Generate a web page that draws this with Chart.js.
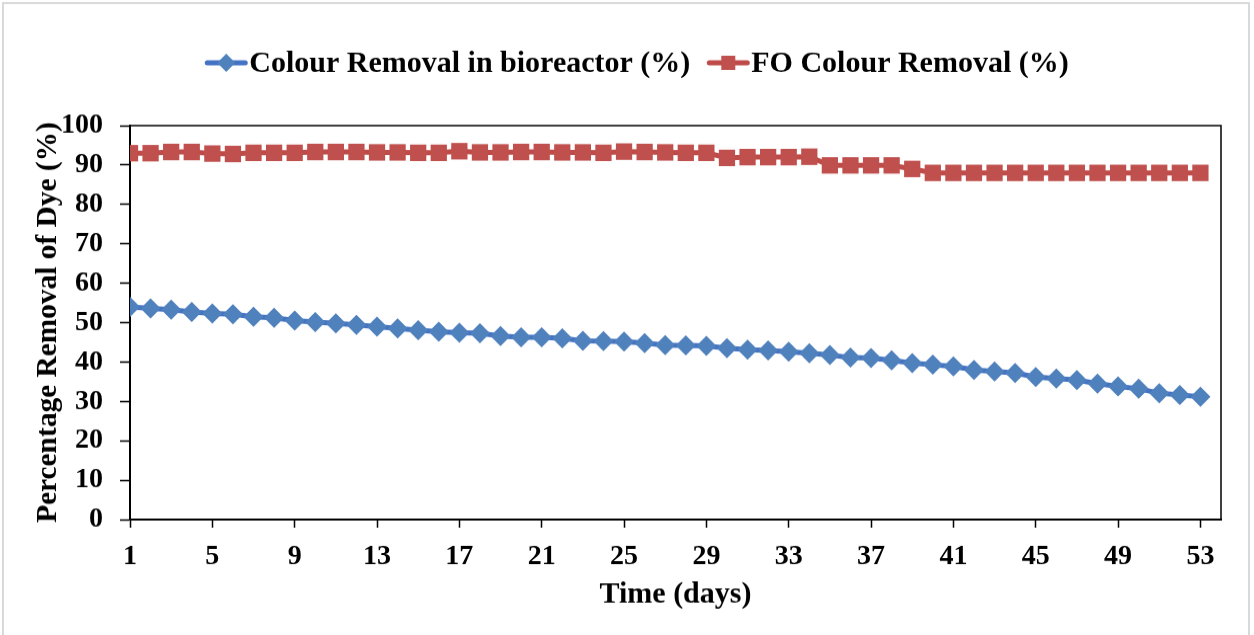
<!DOCTYPE html>
<html lang="en">
<head>
    <meta charset="UTF-8">
    <title>Percentage Removal of Dye</title>
    <style>
        body { margin: 0; background: #fff; }
        #wrap { width: 1254px; height: 635px; position: relative; }
        #myChart { width: 1254px !important; height: 635px !important; }
    </style>
    <script src="https://cdn.jsdelivr.net/npm/chart.js"></script>
</head>
<body>
    <div id="wrap"><canvas id="myChart"></canvas></div>
    <script>
        // days 1..53
        const days = [];
        for (let d = 1; d <= 53; d++) days.push(d);

        // values
        const bioreactor = [
            54.0, 53.6, 53.3, 52.7, 52.3, 52.1, 51.5, 51.2, 50.5, 50.1,
            49.8, 49.4, 49.0, 48.5, 48.1, 47.7, 47.4, 47.3, 46.6, 46.3,
            46.3, 46.0, 45.4, 45.3, 45.2, 44.8, 44.3, 44.2, 44.1, 43.5,
            43.1, 42.9, 42.6, 42.2, 41.8, 41.1, 41.0, 40.4, 39.7, 39.3,
            38.9, 38.0, 37.6, 37.2, 36.2, 35.8, 35.4, 34.5, 33.8, 33.2,
            32.1, 31.6, 31.2
        ];
        const foRemoval = [
            93.0, 93.0, 93.3, 93.3, 92.9, 92.8, 93.1, 93.1, 93.1, 93.3,
            93.3, 93.3, 93.2, 93.2, 93.1, 93.1, 93.5, 93.2, 93.2, 93.3,
            93.3, 93.2, 93.2, 93.1, 93.4, 93.3, 93.2, 93.1, 93.1, 91.8,
            92.0, 92.0, 92.0, 92.1, 89.9, 89.9, 89.9, 89.9, 89.0, 88.0,
            88.0, 88.0, 88.0, 88.0, 88.0, 88.0, 88.0, 88.0, 88.0, 88.0,
            88.0, 88.0, 88.0
        ];
        const xTicks = [1, 5, 9, 13, 17, 21, 25, 29, 33, 37, 41, 45, 49, 53];
        const seriesNames = ['Colour Removal in bioreactor (%)', 'FO Colour Removal (%)'];

        const FONT = "'Liberation Serif', 'Times New Roman', serif";
        const blueLine = '#4472C4', blueMark = '#4F81BD';
        const redLine = '#BE4B48', redMark = '#C0504D';

        // frame, plot border and Excel-like legend
        const decor = {
            id: 'decor',
            beforeDraw(chart) {
                const c = chart.ctx;
                c.save();
                c.fillStyle = '#fff';
                c.fillRect(0, 0, chart.width, chart.height);
                c.strokeStyle = '#d9d9d9';
                c.lineWidth = 2;
                c.strokeRect(3, 3, 1246, 640);
                c.restore();
            },
            afterDraw(chart) {
                const c = chart.ctx, a = chart.chartArea;
                c.save();
                c.strokeStyle = '#000';
                c.lineWidth = 1.5;
                c.beginPath();
                c.moveTo(a.left, a.top); c.lineTo(a.right, a.top); c.lineTo(a.right, a.bottom);
                c.stroke();

                // legend
                c.font = 'bold 30px ' + FONT;
                c.textBaseline = 'middle';
                const sym = 42, gap = 2, between = 17, y = 62;
                const w1 = c.measureText(seriesNames[0]).width;
                const w2 = c.measureText(seriesNames[1]).width;
                const total = sym + gap + w1 + between + sym + gap + w2;
                let x = 637 - total / 2;
                // blue item
                c.strokeStyle = blueLine; c.lineWidth = 5; c.lineCap = 'round';
                c.beginPath(); c.moveTo(x + 2, y); c.lineTo(x + sym - 2, y); c.stroke();
                c.fillStyle = blueMark;
                c.beginPath();
                c.moveTo(x + sym / 2, y - 9); c.lineTo(x + sym / 2 + 9, y);
                c.lineTo(x + sym / 2, y + 9); c.lineTo(x + sym / 2 - 9, y);
                c.closePath(); c.fill();
                c.fillStyle = '#000';
                c.fillText(seriesNames[0], x + sym + gap, y + 1);
                x += sym + gap + w1 + between;
                // red item
                c.strokeStyle = redLine;
                c.beginPath(); c.moveTo(x + 2, y); c.lineTo(x + sym - 2, y); c.stroke();
                c.fillStyle = redMark;
                c.fillRect(x + sym / 2 - 7, y - 7, 14, 14);
                c.fillStyle = '#000';
                c.fillText(seriesNames[1], x + sym + gap, y + 1);
                c.restore();
            }
        };

        const ctx = document.getElementById('myChart').getContext('2d');
        const myChart = new Chart(ctx, {
            type: 'line',
            data: {
                labels: days,
                datasets: [{
                    label: seriesNames[0],
                    data: days.map((d, i) => ({ x: d, y: bioreactor[i] })),
                    borderColor: blueLine,
                    backgroundColor: blueMark,
                    borderWidth: 5,
                    pointStyle: 'rectRot',
                    pointRadius: 10,
                    pointBorderWidth: 0,
                    pointBackgroundColor: blueMark
                }, {
                    label: seriesNames[1],
                    data: days.map((d, i) => ({ x: d, y: foRemoval[i] })),
                    borderColor: redLine,
                    backgroundColor: redMark,
                    borderWidth: 5,
                    pointStyle: 'rect',
                    pointRadius: 11.5,
                    pointBorderWidth: 0,
                    pointBackgroundColor: redMark
                }]
            },
            options: {
                responsive: false,
                animation: false,
                layout: { padding: { top: 124, right: 33, left: 0, bottom: 0 } },
                scales: {
                    x: {
                        type: 'linear',
                        min: 1,
                        max: 54,
                        afterBuildTicks: scale => { scale.ticks = xTicks.map(v => ({ value: v })); },
                        afterFit: scale => { scale.height = 114; },
                        grid: { drawOnChartArea: false, tickLength: 8, color: '#000', tickWidth: 1.5 },
                        border: { color: '#000', width: 2 },
                        ticks: {
                            color: '#000',
                            padding: 12,
                            maxRotation: 0,
                            autoSkip: false,
                            font: { family: FONT, size: 28, weight: 'bold' }
                        },
                        title: {
                            display: true,
                            text: 'Time (days)',
                            color: '#000',
                            padding: { top: 0, bottom: 22 },
                            font: { family: FONT, size: 30, weight: 'bold' }
                        }
                    },
                    y: {
                        min: 0,
                        max: 100,
                        afterFit: scale => { scale.width = 130; },
                        grid: { drawOnChartArea: false, tickLength: 10, color: '#000', tickWidth: 1.5 },
                        border: { color: '#000', width: 2 },
                        ticks: {
                            stepSize: 10,
                            color: '#000',
                            padding: 17,
                            font: { family: FONT, size: 28, weight: 'bold' }
                        },
                        title: {
                            display: true,
                            text: 'Percentage Removal of Dye (%)',
                            color: '#000',
                            padding: { top: 31, bottom: 0 },
                            font: { family: FONT, size: 29, weight: 'bold' }
                        }
                    }
                },
                plugins: {
                    legend: { display: false },
                    tooltip: { enabled: false }
                }
            },
            plugins: [decor]
        });
    </script>
</body>
</html>
